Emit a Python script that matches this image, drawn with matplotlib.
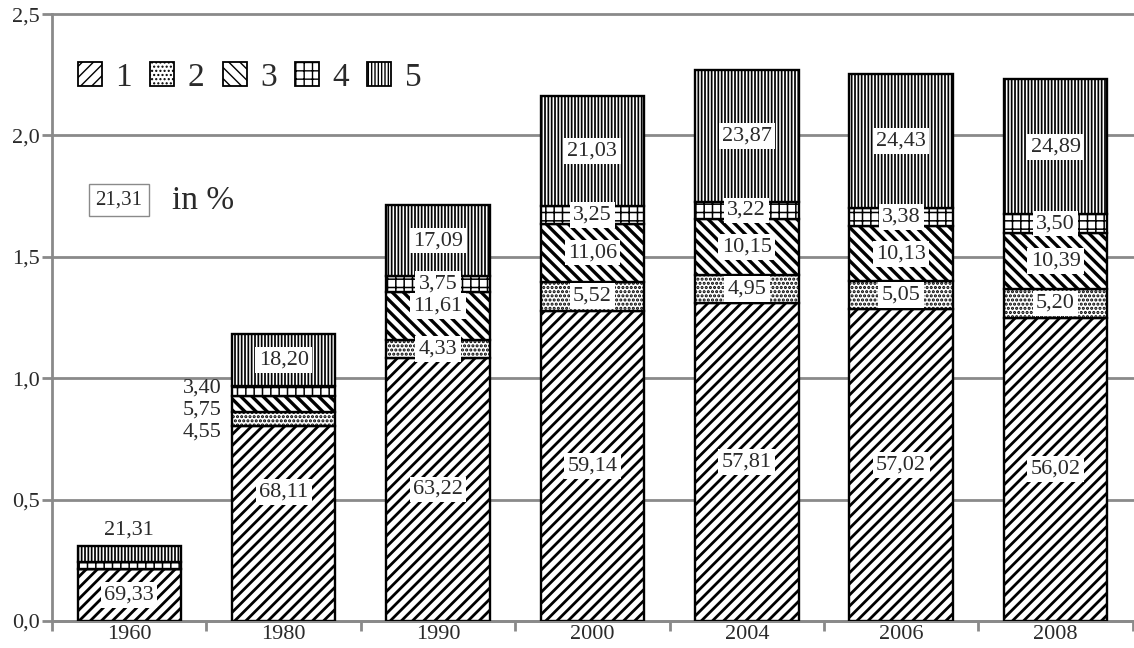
import matplotlib
matplotlib.use('Agg')
import matplotlib.pyplot as plt
from matplotlib.patches import Patch
import numpy as np

# ---------------- data ----------------
years = ['1960', '1980', '1990', '2000', '2004', '2006', '2008']
totals = [0.309, 1.182, 1.713, 2.162, 2.269, 2.253, 2.231]
share1 = [69.33, 68.11, 63.22, 59.14, 57.81, 57.02, 56.02]
share2 = [0.0, 4.55, 4.33, 5.52, 4.95, 5.05, 5.20]
share3 = [0.0, 5.75, 11.61, 11.06, 10.15, 10.13, 10.39]
share4 = [9.36, 3.40, 3.75, 3.25, 3.22, 3.38, 3.50]
share5 = [21.31, 18.20, 17.09, 21.03, 23.87, 24.43, 24.89]
series_names = ['1', '2', '3', '4', '5']
ytick_values = [0.0, 0.5, 1.0, 1.5, 2.0, 2.5]
ytick_labels = ['0,0', '0,5', '1,0', '1,5', '2,0', '2,5']
legend_example = '21,31'
unit_text = 'in %'

# ---------------- style ----------------
plt.rcParams['font.family'] = ['Liberation Serif', 'DejaVu Serif']
GRAY = '#8a8a8a'
TXT = '#2a2a2a'
hatches = ['///', '....', '\\\\\\', '++', '|||||']
hatch_lw = [2.0, 1.5, 2.4, 1.1, 1.25]

fig = plt.figure(figsize=(11.34, 6.48), dpi=100)
ax = fig.add_axes([0.0459, 0.0417, 0.953, 0.9366])

shares = [share1, share2, share3, share4, share5]
x = np.arange(len(years))
tot = np.array(totals)
bottom = np.zeros(len(years))
width = 0.67
seg_info = []
for s, (sh, hat) in enumerate(zip(shares, hatches)):
    h = tot * np.array(sh) / 100.0
    with plt.rc_context({'hatch.linewidth': hatch_lw[s]}):
        bars = ax.bar(x, h, width=width, bottom=bottom, color='white', edgecolor='black',
                      hatch=hat, linewidth=1.7, zorder=3)
    for p in bars:
        if hasattr(p, 'set_hatch_linewidth'):
            p.set_hatch_linewidth(hatch_lw[s])
    seg_info.append((bottom.copy(), h.copy()))
    bottom = bottom + h

PX = 0.72  # pixels -> points at dpi 100
LFS = 16

def fmt(v):
    return f"{v:.2f}".replace('.', ',')

box = dict(boxstyle='square,pad=0.15', fc='white', ec='none')
for s in range(5):
    b, h = seg_info[s]
    for i in range(len(years)):
        val = shares[s][i]
        if val == 0:
            continue
        yc = b[i] + h[i] / 2
        if i == 0 and s in (1, 2, 3):
            continue
        if i == 0 and s == 4:
            ax.annotate(fmt(val), (x[i], b[i] + h[i]), xytext=(0, 16 * PX),
                        textcoords='offset points', ha='center', va='center',
                        fontsize=LFS, color=TXT, zorder=5)
            continue
        if i == 1 and s in (1, 2, 3):
            dy = {1: -13, 2: -6, 3: 3}[s]
            ax.annotate(fmt(val), (x[i] - width / 2, yc), xytext=(-10 * PX, dy * PX),
                        textcoords='offset points', ha='right', va='center',
                        fontsize=LFS, color=TXT, zorder=5)
            continue
        dy = 0
        if i == 1 and s == 0:
            dy = 31
        if i == 2 and s == 2:
            dy = 10
        ax.annotate(fmt(val), (x[i], yc), xytext=(0, dy * PX),
                    textcoords='offset points', ha='center', va='center',
                    fontsize=LFS, color=TXT, bbox=box, zorder=5)

# axes
ax.set_xlim(-0.5, len(years) - 0.5)
ax.set_ylim(0, 2.5)
ax.set_yticks(ytick_values)
ax.set_yticklabels(ytick_labels, fontsize=16, color=TXT)
ax.set_xticks(x)
ax.set_xticklabels(years, fontsize=16, color=TXT)
ax.set_xticks(np.arange(len(years) + 1) - 0.5, minor=True)
ax.tick_params(axis='x', which='major', length=0, pad=3)
ax.tick_params(axis='x', which='minor', length=7, width=2, color=GRAY)
ax.tick_params(axis='y', length=7, width=2, color=GRAY, pad=2)
ax.yaxis.grid(True, color=GRAY, linewidth=2, zorder=0)
ax.set_axisbelow(True)
for ln in ax.get_ygridlines():
    ln.set_clip_on(False)
for sp in ['top', 'right']:
    ax.spines[sp].set_visible(False)
for sp in ['left', 'bottom']:
    ax.spines[sp].set_color(GRAY)
    ax.spines[sp].set_linewidth(2)

# legend
with plt.rc_context({'hatch.linewidth': 1.5}):
    handles = [Patch(facecolor='white', edgecolor='black', hatch=h, linewidth=1.3)
               for h in hatches]
leg = ax.legend(handles, series_names, loc='upper left', bbox_to_anchor=(0.024, 0.921),
                ncol=5, frameon=False, fontsize=24, handlelength=0.72, handleheight=0.72,
                handletextpad=0.4, columnspacing=0.55, borderpad=0, borderaxespad=0)
for t in leg.get_texts():
    t.set_color(TXT)

# note box
ax.text(0.062, 0.694, legend_example, transform=ax.transAxes, ha='center', va='center',
        fontsize=15, color=TXT,
        bbox=dict(boxstyle='square,pad=0.3', fc='white', ec=GRAY, lw=1))
ax.text(0.111, 0.692, unit_text, transform=ax.transAxes, ha='left', va='center',
        fontsize=24, color=TXT)

fig.savefig('out.png', dpi=100)
